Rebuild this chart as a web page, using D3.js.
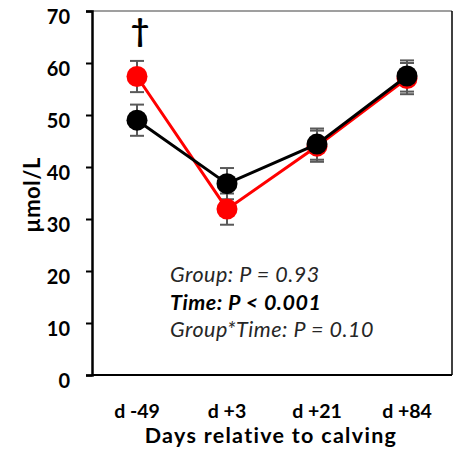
<!DOCTYPE html>
<html>
<head>
<meta charset="utf-8">
<script src="https://cdn.jsdelivr.net/npm/d3@7"></script>
<style>
  html, body { margin: 0; padding: 0; background: #fff; }
  svg { display: block; }
  text { font-family: Lato, "Open Sans", sans-serif; }
</style>
</head>
<body>
<svg id="chart" width="458" height="452"></svg>
<script>
// Sampling days relative to calving
const days = ["d -49", "d +3", "d +21", "d +84"];
// Group means (µmol/L) and standard errors
const redMean = [57.4, 31.9, 44.0, 57.0];
const redSE = [3.0, 3.0, 3.0, 3.0];
const blackMean = [49.0, 36.8, 44.4, 57.5];
const blackSE = [3.0, 3.0, 3.0, 3.0];
const yTicks = [0, 10, 20, 30, 40, 50, 60, 70];
const statLines = [
  { text: "Group: P = 0.93", bold: false },
  { text: "Time: P < 0.001", bold: true },
  { text: "Group*Time: P = 0.10", bold: false }
];

const svg = d3.select("#chart");
const m = { left: 92, right: 452, top: 11, bottom: 375 };

const x = d3.scalePoint().domain(days).range([m.left, m.right]).padding(0.5);
const y = d3.scaleLinear().domain([0, 70]).range([m.bottom, m.top]);

// Frame: grey top edge, black right and bottom edges
svg.append("line").attr("x1", m.left).attr("x2", m.right).attr("y1", m.top).attr("y2", m.top)
  .attr("stroke", "#7f7f7f").attr("stroke-width", 1.5);
svg.append("line").attr("x1", m.right).attr("x2", m.right).attr("y1", m.top).attr("y2", m.bottom)
  .attr("stroke", "#000").attr("stroke-width", 1.5);
svg.append("line").attr("x1", m.left).attr("x2", m.right).attr("y1", m.bottom).attr("y2", m.bottom)
  .attr("stroke", "#000").attr("stroke-width", 2);

// Y axis
const yAxis = svg.append("g").attr("transform", `translate(${m.left},0)`)
  .call(d3.axisLeft(y).tickValues(yTicks).tickSize(6).tickPadding(16));
yAxis.select(".domain").attr("stroke", "#000").attr("stroke-width", 2.5);
yAxis.selectAll(".tick line").attr("stroke", "#000").attr("stroke-width", 2);
yAxis.selectAll(".tick text").attr("font-size", 20).attr("font-weight", "bold")
  .attr("fill", "#000").attr("dy", "0.62em").attr("font-family", "Lato, sans-serif");

// X labels
svg.append("g").selectAll("text").data(days).join("text")
  .attr("x", d => x(d)).attr("y", 418).attr("text-anchor", "middle")
  .attr("font-size", 19.5).attr("font-weight", "bold").text(d => d);

// Axis titles
svg.append("text").attr("x", 271).attr("y", 443).attr("text-anchor", "middle")
  .attr("font-size", 21.5).attr("font-weight", "bold").attr("letter-spacing", 1.3)
  .text("Days relative to calving");
svg.append("text").attr("transform", "translate(40,195) rotate(-90)")
  .attr("text-anchor", "middle").attr("font-size", 22).attr("font-weight", "bold")
  .attr("letter-spacing", 0.5).text("µmol/L");

// Series
const series = [
  { mean: redMean, se: redSE, color: "#ff0000" },
  { mean: blackMean, se: blackSE, color: "#000000" }
];
const line = d3.line().x((d, i) => x(days[i])).y(d => y(d));

// Error bars first, then lines, then markers
series.forEach(s => {
  const g = svg.append("g");
  s.mean.forEach((v, i) => {
    const cx = x(days[i]);
    const y1 = y(v + s.se[i]), y2 = y(v - s.se[i]);
    g.append("line").attr("x1", cx).attr("x2", cx).attr("y1", y1).attr("y2", y2)
      .attr("stroke", "#595959").attr("stroke-width", 2);
    [y1, y2].forEach(yy => g.append("line").attr("x1", cx - 7).attr("x2", cx + 7)
      .attr("y1", yy).attr("y2", yy).attr("stroke", "#595959").attr("stroke-width", 2));
  });
});
series.forEach(s => {
  svg.append("path").datum(s.mean).attr("d", line).attr("fill", "none")
    .attr("stroke", s.color).attr("stroke-width", 3);
  svg.append("g").selectAll("circle").data(s.mean).join("circle")
    .attr("cx", (d, i) => x(days[i])).attr("cy", d => y(d)).attr("r", 10.5)
    .attr("fill", s.color);
});

// Significance marker at d -49
svg.append("text").attr("x", x(days[0]) + 3).attr("y", 42).attr("text-anchor", "middle")
  .attr("font-size", 32).attr("font-weight", "bold").attr("font-family", "DejaVu Sans, sans-serif")
  .text("†");

// Statistics
svg.append("g").selectAll("text").data(statLines).join("text")
  .attr("x", 170).attr("y", (d, i) => 282 + i * 27.5)
  .attr("font-size", 21.5).attr("font-style", "italic").attr("letter-spacing", 0.5)
  .attr("font-weight", d => d.bold ? "bold" : "normal")
  .attr("fill", d => d.bold ? "#000" : "#262626")
  .text(d => d.text);
</script>
</body>
</html>
